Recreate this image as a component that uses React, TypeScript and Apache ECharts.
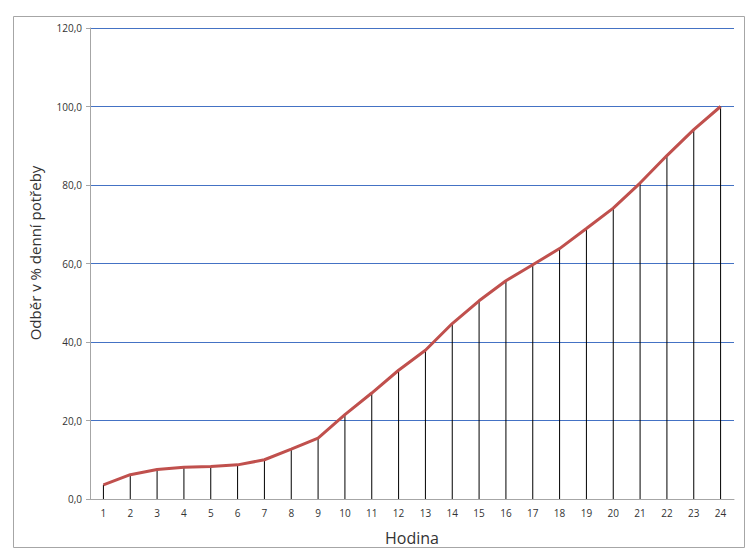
import React, { useEffect, useRef } from "react";
import * as echarts from "echarts";

const hours = ["1","2","3","4","5","6","7","8","9","10","11","12","13","14","15","16","17","18","19","20","21","22","23","24"];
const consumption = [3.6, 6.2, 7.5, 8.1, 8.3, 8.7, 10.0, 12.7, 15.5, 21.5, 27.0, 32.8, 37.9, 44.7, 50.5, 55.6, 59.7, 63.8, 68.9, 74.1, 80.5, 87.5, 94.1, 100.0];
const yTitle = "Odběr v % denní potřeby";
const xTitle = "Hodina";

export default function App() {
  const ref = useRef<HTMLDivElement>(null);
  useEffect(() => {
    document.body.style.margin = "0";
    if (!ref.current) return;
    const chart = echarts.init(ref.current, null, { renderer: "svg" });
    const font = "'Open Sans', 'Noto Sans', sans-serif";
    chart.setOption({
      animation: false,
      backgroundColor: "#ffffff",
      graphic: [
        {
          type: "rect",
          shape: { x: 13.5, y: 16.5, width: 731, height: 531 },
          style: { fill: "none", stroke: "#a6a6a6", lineWidth: 1 },
          silent: true,
        },
        {
          type: "text",
          x: 34.5,
          y: 253,
          rotation: Math.PI / 2,
          style: {
            text: yTitle,
            fill: "#333",
            fontSize: 15,
            fontFamily: font,
            align: "center",
            verticalAlign: "middle",
          },
          silent: true,
        },
      ],
      grid: { left: 90, right: 21, top: 28, bottom: 58, containLabel: false },
      xAxis: {
        type: "category",
        data: hours,
        boundaryGap: true,
        axisLine: { lineStyle: { color: "#a6a6a6", width: 1 } },
        axisTick: { show: false },
        axisLabel: { color: "#333", fontSize: 10, fontFamily: font, margin: 9 },
        name: xTitle,
        nameLocation: "middle",
        nameGap: 31,
        nameTextStyle: { color: "#333", fontSize: 16, fontFamily: font },
        splitLine: { show: false },
      },
      yAxis: {
        type: "value",
        min: 0,
        max: 120,
        interval: 20,
        axisLine: { show: true, lineStyle: { color: "#a6a6a6", width: 1 } },
        axisTick: { show: true, length: 4, lineStyle: { color: "#a6a6a6" } },
        axisLabel: {
          color: "#333",
          fontSize: 10,
          fontFamily: font,
          margin: 8,
          formatter: (v: number) => v.toFixed(1).replace(".", ","),
        },
        splitLine: { show: true, lineStyle: { color: "#4472C4", width: 1 } },
      },
      series: [
        {
          type: "bar",
          data: consumption,
          barWidth: 1,
          itemStyle: { color: "#000000" },
          silent: true,
          z: 2,
        },
        {
          type: "line",
          data: consumption,
          symbol: "none",
          lineStyle: { color: "#C0504D", width: 3 },
          z: 3,
        },
      ],
    });
    return () => chart.dispose();
  }, []);
  return <div ref={ref} style={{ width: 755, height: 557 }} />;
}
